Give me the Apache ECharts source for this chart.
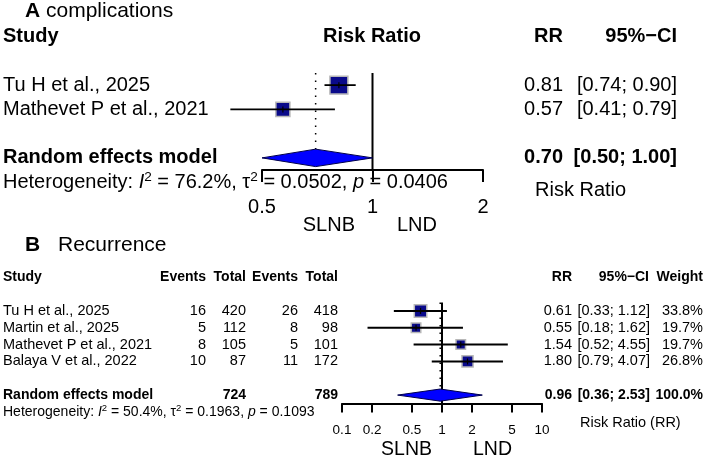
<!DOCTYPE html>
<html>
<head>
<meta charset="utf-8">
<script src="https://cdn.jsdelivr.net/npm/echarts@6/dist/echarts.min.js"></script>
<style>
  html, body { margin: 0; padding: 0; background: #fff; }
  #chart { width: 708px; height: 465px; }
</style>
</head>
<body>
<div id="chart"></div>
<script>
// A: complications
const studiesA = ['Tu H et al., 2025', 'Mathevet P et al., 2021'];
const rrA = [0.81, 0.57];
const lowA = [0.74, 0.41];
const highA = [0.90, 0.79];
const weightA = [62, 38]; // not printed, guessed from square sizes
const pooledA = [0.70, 0.50, 1.00];
const hetA = ['76.2%', '0.0502', '0.0406'];
const ticksA = [0.5, 1, 2];

// B: recurrence
const studiesB = ['Tu H et al., 2025', 'Martin et al., 2025', 'Mathevet P et al., 2021', 'Balaya V et al., 2022'];
const eventsSlnb = [16, 5, 8, 10];
const totalSlnb = [420, 112, 105, 87];
const eventsLnd = [26, 8, 5, 11];
const totalLnd = [418, 98, 101, 172];
const rrB = [0.61, 0.55, 1.54, 1.80];
const lowB = [0.33, 0.18, 0.52, 0.79];
const highB = [1.12, 1.62, 4.55, 4.07];
const weightB = [33.8, 19.7, 19.7, 26.8];
const pooledB = [0.96, 0.36, 2.53];
const pooledTotals = [724, 789];
const hetB = ['50.4%', '0.1963', '0.1093'];
const ticksB = [0.1, 0.2, 0.5, 1, 2, 5, 10];

const FONT = '"Liberation Sans", Arial, Helvetica, sans-serif';
const L = Math.log10;
const f2 = v => v.toFixed(2);
const chart = echarts.init(document.getElementById('chart'));

function squares(maxW, lw) {
  return function (params, api) {
    const row = api.value(3);
    const c = api.coord([api.value(0), row]);
    const a = api.coord([api.value(1), row]);
    const b = api.coord([api.value(2), row]);
    const s = api.size([0, 1])[1] * 0.74 * Math.sqrt(api.value(4) / maxW);
    return {
      type: 'group',
      children: [
        { type: 'rect', shape: { x: c[0] - s / 2, y: c[1] - s / 2, width: s, height: s },
          style: { fill: '#0a0a8a', stroke: '#b8b8b8', lineWidth: 1.5 } },
        { type: 'line', shape: { x1: a[0], y1: a[1], x2: b[0], y2: b[1] },
          style: { stroke: '#000', lineWidth: lw } },
        { type: 'line', shape: { x1: c[0], y1: c[1] - 3, x2: c[0], y2: c[1] + 3 },
          style: { stroke: '#000', lineWidth: 1.2 } }
      ]
    };
  };
}

function pooled(params, api) {
  const x = api.value(0), row = api.value(3), h = 0.36;
  const up = api.coord([x, row - h]);
  const down = api.coord([x, row + h]);
  const a = api.coord([api.value(1), row]);
  const b = api.coord([api.value(2), row]);
  const t = api.coord([x, -0.5]);
  return {
    type: 'group',
    children: [
      { type: 'line', shape: { x1: t[0], y1: t[1], x2: up[0], y2: up[1] },
        style: { stroke: '#000', lineWidth: 1.5, lineDash: [1.5, 6] } },
      { type: 'polygon', shape: { points: [a, up, b, down] },
        style: { fill: '#0000ff', stroke: '#00004a', lineWidth: 1 } }
    ]
  };
}

function refLine(params, api) {
  const p1 = api.coord([api.value(0), api.value(1)]);
  const p2 = api.coord([api.value(0), api.value(2)]);
  return { type: 'line', shape: { x1: p1[0], y1: p1[1], x2: p2[0], y2: p2[1] },
    style: { stroke: '#000', lineWidth: 2 } };
}

function xAxis(gridIndex, ticks, tickLen, fontSize, margin) {
  const vals = ticks.map(L);
  return {
    type: 'value', gridIndex,
    min: vals[0], max: vals[vals.length - 1],
    axisLine: { show: true, onZero: false, lineStyle: { color: '#000', width: 2 } },
    axisTick: { show: true, length: tickLen, customValues: vals, lineStyle: { color: '#000', width: 2 } },
    axisLabel: { customValues: vals, color: '#000', fontSize, fontFamily: FONT, margin,
      formatter: v => String(+Math.pow(10, v).toPrecision(3)) },
    splitLine: { show: false }
  };
}

const nA = studiesA.length, nB = studiesB.length;

chart.setOption({
  animation: false,
  backgroundColor: '#fff',
  grid: [
    { left: 262, width: 221, top: 73, height: 97 },
    { left: 342, width: 200, top: 302.5, height: 101 }
  ],
  xAxis: [xAxis(0, ticksA, 12, 20, 27), xAxis(1, ticksB, 9, 13.5, 20)],
  yAxis: [
    { type: 'value', gridIndex: 0, min: -0.5, max: nA + 1.5, inverse: true, show: false },
    { type: 'value', gridIndex: 1, min: -0.5, max: nB + 1.5, inverse: true, show: false }
  ],
  series: [
    { type: 'custom', xAxisIndex: 0, yAxisIndex: 0, renderItem: refLine, data: [[0, -0.5, nA + 1.5]] },
    { type: 'custom', xAxisIndex: 0, yAxisIndex: 0, renderItem: pooled,
      data: [[L(pooledA[0]), L(pooledA[1]), L(pooledA[2]), nA + 1]] },
    { type: 'custom', xAxisIndex: 0, yAxisIndex: 0, renderItem: squares(Math.max(...weightA), 1.8),
      data: rrA.map((r, i) => [L(r), L(lowA[i]), L(highA[i]), i, weightA[i]]) },
    { type: 'custom', xAxisIndex: 1, yAxisIndex: 1, renderItem: refLine, data: [[0, -0.5, nB + 1.5]] },
    { type: 'custom', xAxisIndex: 1, yAxisIndex: 1, renderItem: pooled,
      data: [[L(pooledB[0]), L(pooledB[1]), L(pooledB[2]), nB + 1]] },
    { type: 'custom', xAxisIndex: 1, yAxisIndex: 1, renderItem: squares(Math.max(...weightB), 2),
      data: rrB.map((r, i) => [L(r), L(lowB[i]), L(highB[i]), i, weightB[i]]) }
  ]
});

// text columns, placed on the same rows as the marks
const yA = r => chart.convertToPixel({ yAxisIndex: 0 }, r);
const yB = r => chart.convertToPixel({ yAxisIndex: 1 }, r);

function txt(x, y, text, size, opt) {
  opt = opt || {};
  const style = {
    text, x, y, fill: '#000', fontSize: size, fontFamily: FONT,
    fontWeight: opt.bold ? 'bold' : 'normal',
    align: opt.align || 'left', verticalAlign: 'middle'
  };
  if (opt.rich) { style.rich = opt.rich; style.lineHeight = size * 1.15; }
  return { type: 'text', silent: true, style };
}

function hetText(x, y, size, h) {
  const base = { fontSize: size, fontFamily: FONT, lineHeight: size * 1.15 };
  const rich = {
    n: base,
    i: Object.assign({}, base, { fontStyle: 'italic' }),
    s: { fontSize: size * 0.68, fontFamily: FONT, verticalAlign: 'top', lineHeight: size * 0.68 }
  };
  const s = '{n|Heterogeneity: }{i|I}{s|2}{n| = ' + h[0] + ', \u03c4}{s|2}{n| = ' + h[1] + ', }{i|p}{n| = ' + h[2] + '}';
  return txt(x, y, s, size, { rich });
}

const g = [];

// panel A
g.push(txt(25, 11, '{b|A} complications', 21, { rich: {
  b: { fontSize: 21, fontFamily: FONT, fontWeight: 'bold' } } }));
g.push(txt(3, yA(-2), 'Study', 20, { bold: true }));
g.push(txt(372, yA(-2), 'Risk Ratio', 20, { bold: true, align: 'center' }));
g.push(txt(563, yA(-2), 'RR', 20, { bold: true, align: 'right' }));
g.push(txt(677, yA(-2), '95%\u2212CI', 20, { bold: true, align: 'right' }));
studiesA.forEach((s, i) => {
  g.push(txt(3, yA(i), s, 20));
  g.push(txt(563, yA(i), f2(rrA[i]), 20, { align: 'right' }));
  g.push(txt(677, yA(i), '[' + f2(lowA[i]) + '; ' + f2(highA[i]) + ']', 20, { align: 'right' }));
});
g.push(txt(3, yA(nA + 1), 'Random effects model', 20, { bold: true }));
g.push(txt(563, yA(nA + 1), f2(pooledA[0]), 20, { bold: true, align: 'right' }));
g.push(txt(677, yA(nA + 1), '[' + f2(pooledA[1]) + '; ' + f2(pooledA[2]) + ']', 20, { bold: true, align: 'right' }));
g.push(hetText(3, yA(nA + 2), 20, hetA));
g.push(txt(535, yA(nA + 2.35), 'Risk Ratio', 20));
g.push(txt(355, 225, 'SLNB', 20, { align: 'right' }));
g.push(txt(397, 225, 'LND', 20));

// panel B
const cols = [206, 246, 298, 338];
g.push(txt(25, 245, 'B', 21, { bold: true }));
g.push(txt(58, 245, 'Recurrence', 21));
g.push(txt(3, yB(-2), 'Study', 14, { bold: true }));
['Events', 'Total', 'Events', 'Total'].forEach((h, j) =>
  g.push(txt(cols[j], yB(-2), h, 14, { bold: true, align: 'right' })));
g.push(txt(572, yB(-2), 'RR', 14, { bold: true, align: 'right' }));
g.push(txt(649, yB(-2), '95%\u2212CI', 14, { bold: true, align: 'right' }));
g.push(txt(703, yB(-2), 'Weight', 14, { bold: true, align: 'right' }));
studiesB.forEach((s, i) => {
  const y = yB(i);
  g.push(txt(3, y, s, 14.5));
  [eventsSlnb[i], totalSlnb[i], eventsLnd[i], totalLnd[i]].forEach((v, j) =>
    g.push(txt(cols[j], y, String(v), 14.5, { align: 'right' })));
  g.push(txt(572, y, f2(rrB[i]), 14.5, { align: 'right' }));
  g.push(txt(650, y, '[' + f2(lowB[i]) + '; ' + f2(highB[i]) + ']', 14.5, { align: 'right' }));
  g.push(txt(703, y, weightB[i].toFixed(1) + '%', 14.5, { align: 'right' }));
});
const yp = yB(nB + 1);
g.push(txt(3, yp, 'Random effects model', 14, { bold: true }));
g.push(txt(cols[1], yp, String(pooledTotals[0]), 14, { bold: true, align: 'right' }));
g.push(txt(cols[3], yp, String(pooledTotals[1]), 14, { bold: true, align: 'right' }));
g.push(txt(572, yp, f2(pooledB[0]), 14, { bold: true, align: 'right' }));
g.push(txt(650, yp, '[' + f2(pooledB[1]) + '; ' + f2(pooledB[2]) + ']', 14, { bold: true, align: 'right' }));
g.push(txt(703, yp, '100.0%', 14, { bold: true, align: 'right' }));
g.push(hetText(3, yB(nB + 2), 14, hetB));
g.push(txt(580, yB(nB + 2.65), 'Risk Ratio (RR)', 14.5));
g.push(txt(432, 450, 'SLNB', 19.5, { align: 'right' }));
g.push(txt(473, 450, 'LND', 19.5));

chart.setOption({ graphic: g });
</script>
</body>
</html>
